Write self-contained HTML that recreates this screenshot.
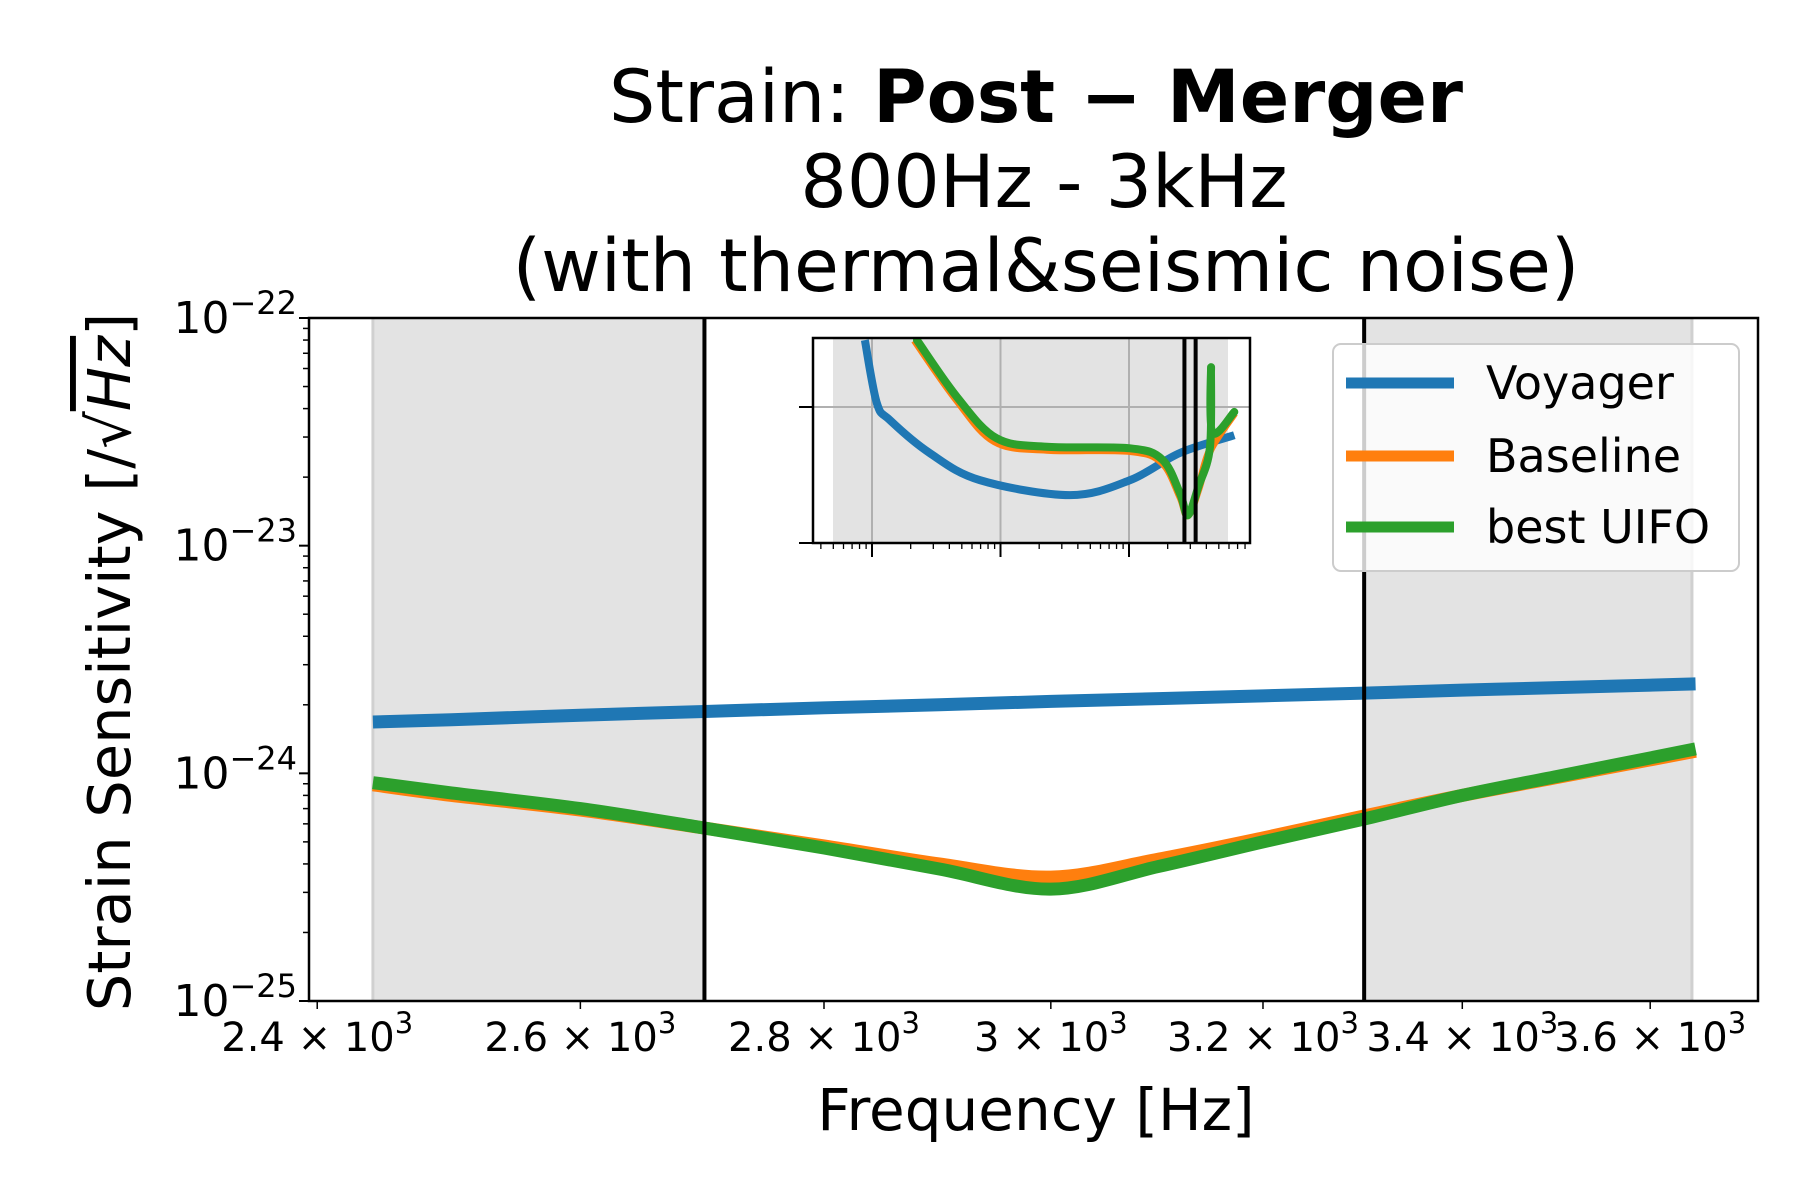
<!DOCTYPE html>
<html><head><meta charset="utf-8"><style>
body{margin:0;background:#fff;}
svg{display:block;font-family:"DejaVu Sans","Liberation Sans",sans-serif;}
</style></head><body>
<svg id="c" width="1800" height="1200" viewBox="0 0 1800 1200" xmlns="http://www.w3.org/2000/svg">
<rect width="1800" height="1200" fill="#fff"/>
<g text-anchor="middle" font-size="73" fill="#000">
<text x="1036" y="122">Strain: <tspan font-weight="bold">Post − Merger</tspan></text>
<text x="1044" y="207">800Hz - 3kHz</text>
<text x="1046" y="291">(with thermal&amp;seismic noise)</text>
</g>
<g id="main"></g>
<g id="inset"></g>
<g id="legend">
<rect x="1333" y="344" width="406" height="227" rx="8" fill="#fff" fill-opacity="0.8" stroke="#ccc" stroke-width="2"/>
<line x1="1346" x2="1454" y1="383" y2="383" stroke="#1f77b4" stroke-width="11"/>
<text x="1486" y="399" font-size="46">Voyager</text>
<line x1="1346" x2="1454" y1="456" y2="456" stroke="#ff7f0e" stroke-width="11"/>
<text x="1486" y="472" font-size="46">Baseline</text>
<line x1="1346" x2="1454" y1="527" y2="527" stroke="#2ca02c" stroke-width="11"/>
<text x="1486" y="543" font-size="46">best UIFO</text>
</g>
<text x="1036" y="1130" text-anchor="middle" font-size="58">Frequency [Hz]</text>
<g transform="translate(130,662) rotate(-90)">
<text x="0" y="0" text-anchor="middle" font-size="59">Strain Sensitivity [/√<tspan font-style="italic" text-decoration="overline">Hz</tspan>]</text>
</g>
</svg>
<script>
const NS="http://www.w3.org/2000/svg";
// main chart data
const freqs=[2441,2500,2600,2700,2800,2900,3000,3100,3200,3300,3400,3500,3650];
const voyager=[1.68e-24,1.72e-24,1.80e-24,1.87e-24,1.94e-24,2.00e-24,2.07e-24,2.13e-24,2.19e-24,2.25e-24,2.32e-24,2.38e-24,2.47e-24];
const baseline=[0.89e-24,0.80e-24,0.69e-24,0.575e-24,0.48e-24,0.40e-24,0.35e-24,0.42e-24,0.52e-24,0.65e-24,0.80e-24,0.96e-24,1.25e-24];
const uifo=[0.91e-24,0.82e-24,0.70e-24,0.575e-24,0.47e-24,0.38e-24,0.31e-24,0.39e-24,0.50e-24,0.63e-24,0.80e-24,0.97e-24,1.28e-24];
const xTicks=[2400,2600,2800,3000,3200,3400,3600];
const xTickLabels=["2.4","2.6","2.8","3","3.2","3.4","3.6"];
const yTicks=[-22,-23,-24,-25];
const shadeBands=[[2441,2700],[3300,3646]];
const vLines=[2700,3300];
// inset data
const insetBlueF=[8.8,10.9,13.8,28,69,347,1020,2500,6600];
const insetBlueV=[3.1e-22,1.07e-22,8.0e-23,4.6e-23,2.9e-23,2.25e-23,2.9e-23,4.6e-23,6.2e-23];
const insetGreenF=[22.4,46,93,229,1020,1820,2500,2870,3470,4270,4350,4450,6600];
const insetGreenV=[3.1e-22,1.18e-22,5.9e-23,5.1e-23,4.97e-23,4.1e-23,2.3e-23,1.6e-23,2.6e-23,5.1e-23,1.96e-22,6.5e-23,9.2e-23];
const insetOrangeF=[21.5,45,90,229,1020,1820,2500,2870,3470,4270,6600];
const insetOrangeV=[3.1e-22,1.15e-22,5.6e-23,4.85e-23,4.75e-23,3.9e-23,2.2e-23,1.6e-23,2.5e-23,4.8e-23,9.0e-23];

const L=309,R=1758,T=318,B=1001;
const lx0=Math.log10(2394),lx1=Math.log10(3720);
const X=f=>L+(Math.log10(f)-lx0)/(lx1-lx0)*(R-L);
const Y=v=>T+(-22-Math.log10(v))*(B-T)/3;
function el(tag,attrs,parent){const e=document.createElementNS(NS,tag);for(const k in attrs)e.setAttribute(k,attrs[k]);parent.appendChild(e);return e;}
const main=document.getElementById('main');
shadeBands.forEach(b=>{const r=el('rect',{x:X(b[0]),y:T,width:X(b[1])-X(b[0]),height:B-T,fill:'#e3e3e3'},main);


el('line',{x1:X(b[0]),x2:X(b[0]),y1:T,y2:B,stroke:'#d0d0d0','stroke-width':3},main);
el('line',{x1:X(b[1]),x2:X(b[1]),y1:T,y2:B,stroke:'#d0d0d0','stroke-width':3},main);});
yTicks.forEach(e=>{if(e>-22&&e>-25){const g=el('line',{x1:L,x2:R,y1:Y(Math.pow(10,e)),y2:Y(Math.pow(10,e)),stroke:'#b0b0b0','stroke-width':2},main);

}});
function smooth(fs,vs,Xf,Yf){const p=fs.map((f,i)=>[Xf(f),Yf(vs[i])]);let d='M'+p[0];for(let i=0;i<p.length-1;i++){const p0=p[Math.max(0,i-1)],p1=p[i],p2=p[i+1],p3=p[Math.min(p.length-1,i+2)];
d+='C'+(p1[0]+(p2[0]-p0[0])/6)+','+(p1[1]+(p2[1]-p0[1])/6)+' '+(p2[0]-(p3[0]-p1[0])/6)+','+(p2[1]-(p3[1]-p1[1])/6)+' '+p2[0]+','+p2[1];}return d;}
const sv=el('path',{d:smooth(freqs,voyager,X,Y),fill:'none',stroke:'#1f77b4','stroke-width':13},main);


const sb=el('path',{d:smooth(freqs,baseline,X,Y),fill:'none',stroke:'#ff7f0e','stroke-width':13},main);


const su=el('path',{d:smooth(freqs,uifo,X,Y),fill:'none',stroke:'#2ca02c','stroke-width':13},main);


vLines.forEach(f=>{const l=el('line',{x1:X(f),x2:X(f),y1:T,y2:B,stroke:'#000','stroke-width':4},main);

});
const fr=el('rect',{x:L,y:T,width:R-L,height:B-T,fill:'none',stroke:'#000','stroke-width':2.5},main);


yTicks.forEach(e=>{const y=Y(Math.pow(10,e));el('line',{x1:L-10,x2:L,y1:y,y2:y,stroke:'#000','stroke-width':2},main);
const t=el('text',{x:L-12,y:y+15,'text-anchor':'end','font-size':44},main);


t.innerHTML='10<tspan dy="-19" font-size="32">−'+(-e)+'</tspan>';
if(e>-25)for(let m=2;m<10;m++){const ym=Y(m*Math.pow(10,e-1));el('line',{x1:L-6,x2:L,y1:ym,y2:ym,stroke:'#000','stroke-width':1.5},main);}});
xTicks.forEach((f,i)=>{const x=X(f);el('line',{x1:x,x2:x,y1:B,y2:B+8,stroke:'#000','stroke-width':1.5},main);
const t=el('text',{x:x,y:B+50,'text-anchor':'middle','font-size':40},main);


t.innerHTML=xTickLabels[i]+' × 10<tspan dy="-18" font-size="29">3</tspan>';});
// inset
const ins=document.getElementById('inset');


const iL=813,iR=1250,iT=338,iB=543;
const IX=f=>872+(Math.log10(f)-1)*128.5;
const IY=v=>407+(-22-Math.log10(v))*136;
el('rect',{x:iL,y:iT,width:iR-iL,height:iB-iT,fill:'#fff'},ins);
el('rect',{x:833,y:iT,width:1228-833,height:iB-iT,fill:'#e3e3e3'},ins);
el('clipPath',{id:'ic'},ins);el('rect',{x:iL,y:iT,width:iR-iL,height:iB-iT},ins.lastChild);
[10,100,1000].forEach(f=>el('line',{x1:IX(f),x2:IX(f),y1:iT,y2:iB,stroke:'#b0b0b0','stroke-width':2},ins));
el('line',{x1:iL,x2:iR,y1:407,y2:407,stroke:'#b0b0b0','stroke-width':2},ins);
const g=el('g',{'clip-path':'url(#ic)'},ins);
const ib=el('path',{d:smooth(insetBlueF,insetBlueV,IX,IY),fill:'none',stroke:'#1f77b4','stroke-width':8},g);


const io=el('path',{d:smooth(insetOrangeF,insetOrangeV,IX,IY),fill:'none',stroke:'#ff7f0e','stroke-width':8,'stroke-linejoin':'round'},g);


const ig=el('path',{d:smooth(insetGreenF,insetGreenV,IX,IY),fill:'none',stroke:'#2ca02c','stroke-width':8,'stroke-linejoin':'round','stroke-linecap':'round'},g);


vLines.forEach(f=>el('line',{x1:IX(f),x2:IX(f),y1:iT,y2:iB,stroke:'#000','stroke-width':4},ins));
el('rect',{x:iL,y:iT,width:iR-iL,height:iB-iT,fill:'none',stroke:'#000','stroke-width':2.5},ins);
el('line',{x1:iL-14,x2:iL,y1:407,y2:407,stroke:'#000','stroke-width':2},ins);
el('line',{x1:iL-14,x2:iL,y1:iB,y2:iB,stroke:'#000','stroke-width':2},ins);
for(let d=0;d<4;d++)for(let m=1;m<10;m++){const f=m*Math.pow(10,d);const x=IX(f);if(x<iL||x>iR)continue;
el('line',{x1:x,x2:x,y1:iB,y2:iB+(m==1?14:6),stroke:'#000','stroke-width':m==1?2:1.3},ins);}
</script>
</body></html>
